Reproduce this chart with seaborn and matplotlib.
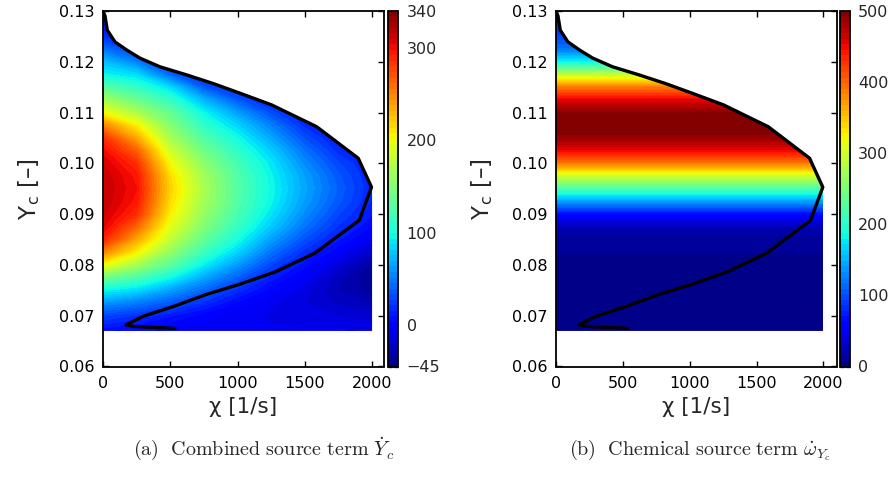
import numpy as np
import pandas as pd
import matplotlib
matplotlib.use("Agg")
import matplotlib.pyplot as plt
from matplotlib.patches import Polygon
import seaborn as sns

# ---------------- data ----------------
chi_grid = [0, 250, 500, 750, 1000, 1250, 1500, 1750, 2000]          # [1/s]
yc_grid = [0.067, 0.070, 0.0725, 0.075, 0.0775, 0.080, 0.0825, 0.085, 0.0875,
           0.090, 0.0925, 0.095, 0.0975, 0.100, 0.1025, 0.105, 0.1075, 0.110,
           0.1125, 0.115, 0.1175, 0.120, 0.1225, 0.125, 0.1275, 0.130]

# combined source term (one column per chi value, rows follow yc_grid)
ydot_chi0    = [5, 28, 58, 95, 140, 200, 250, 290, 305, 312, 315, 316, 315, 310, 300, 285, 250, 200, 165, 130, 95, 75, 45, 18, 8, 3]
ydot_chi250  = [0, 20, 48, 84, 122, 165, 205, 235, 262, 285, 295, 298, 295, 285, 265, 235, 205, 168, 138, 112, 85, 50, 25, 12, 8, 5]
ydot_chi500  = [-5, 10, 35, 62, 97, 130, 156, 178, 194, 206, 214, 218, 214, 201, 184, 166, 150, 135, 112, 85, 40, 15, 10, 8, 5, 5]
ydot_chi750  = [-8, 0, 18, 40, 65, 92, 115, 134, 148, 158, 165, 167, 164, 154, 141, 126, 110, 95, 70, 35, 12, 8, 6, 5, 5, 5]
ydot_chi1000 = [-8, -6, 2, 18, 38, 60, 82, 100, 113, 122, 127, 128, 126, 120, 110, 98, 82, 62, 35, 12, 8, 6, 5, 5, 5, 5]
ydot_chi1250 = [-8, -10, -8, 0, 12, 28, 45, 62, 78, 88, 95, 97, 95, 90, 80, 65, 50, 30, 12, 8, 6, 5, 5, 5, 5, 5]
ydot_chi1500 = [-8, -12, -15, -12, -5, 5, 18, 32, 45, 55, 62, 65, 63, 55, 45, 32, 18, 10, 8, 6, 5, 5, 5, 5, 5, 5]
ydot_chi1750 = [-8, -15, -22, -27, -25, -15, -3, 10, 20, 28, 35, 38, 35, 28, 18, 10, 8, 6, 5, 5, 5, 5, 5, 5, 5, 5]
ydot_chi2000 = [-10, -18, -28, -36, -40, -35, -22, -8, 3, 10, 14, 15, 14, 12, 10, 8, 6, 5, 5, 5, 5, 5, 5, 5, 5, 5]

# chemical source term profile versus Yc (nearly independent of chi)
omega_profile = [5, 5, 5, 5, 5, 6, 8, 12, 25, 65, 140, 220, 300, 390, 450, 490,
                 500, 495, 455, 390, 290, 185, 120, 95, 85, 75]

# S-curve (black line)
curve_chi = [0, 15, 32, 89, 176, 275, 423, 622, 819, 1018, 1253, 1588, 1897, 1996,
             1905, 1575, 1278, 1018, 770, 522, 300, 171, 225, 535]
curve_yc = [0.1300, 0.1290, 0.1262, 0.1239, 0.1223, 0.1207, 0.1190, 0.1174, 0.1157,
            0.1138, 0.1115, 0.1072, 0.1010, 0.0953, 0.0888, 0.0823, 0.0786, 0.0762,
            0.0742, 0.0718, 0.0699, 0.0682, 0.0679, 0.0675]

ydot_ticks = [-45, 0, 100, 200, 300, 340]
omega_ticks = [0, 100, 200, 300, 400, 500]
x_ticks = [0, 500, 1000, 1500, 2000]
y_ticks = [0.06, 0.07, 0.08, 0.09, 0.10, 0.11, 0.12, 0.13]

# ---------------- style ----------------
sns.set_style("ticks")
plt.rcParams["font.family"] = ["DejaVu Sans"]
plt.rcParams["mathtext.fontset"] = "cm"
plt.rcParams["axes.linewidth"] = 1.3

W, H = 893, 480
fig = plt.figure(figsize=(W / 100, H / 100), dpi=100)

def fx(px):
    return px / W

def fy(py):
    return 1 - py / H

top_px, bot_px = 10.9, 366.5
ax_h = (bot_px - top_px) / H
ax_b = fy(bot_px)

ax1 = fig.add_axes([fx(103), ax_b, fx(383.5 - 103), ax_h])
cax1 = fig.add_axes([fx(388.3), ax_b, fx(10), ax_h])
ax2 = fig.add_axes([fx(556), ax_b, fx(836.7 - 556), ax_h])
cax2 = fig.add_axes([fx(840), ax_b, fx(9.5), ax_h])

CHI, YC = np.meshgrid(chi_grid, yc_grid)
ydot = np.column_stack([ydot_chi0, ydot_chi250, ydot_chi500, ydot_chi750, ydot_chi1000,
                        ydot_chi1250, ydot_chi1500, ydot_chi1750, ydot_chi2000])
omega = np.tile(np.array(omega_profile)[:, None], (1, len(chi_grid)))

cmap = plt.get_cmap("jet")
curve_df = pd.DataFrame({"chi": curve_chi, "yc": curve_yc})
tip = int(np.argmax(curve_chi))

def region_patch(ax):
    verts = [(chi_grid[0], yc_grid[0]), (chi_grid[-1], yc_grid[0]), (chi_grid[-1], curve_yc[tip])]
    verts += [(c, y) for c, y in zip(curve_chi[:tip + 1][::-1], curve_yc[:tip + 1][::-1])]
    return Polygon(verts, closed=True, transform=ax.transData, facecolor="none", edgecolor="none")

def panel(ax, cax, Z, vmin, vmax, cticks, xmax):
    levels = np.linspace(vmin, vmax, 65)
    cs = ax.contourf(CHI, YC, np.clip(Z, vmin, vmax), levels=levels, cmap=cmap)
    cs.set_clip_path(region_patch(ax))
    sns.lineplot(data=curve_df, x="chi", y="yc", sort=False, estimator=None,
                 color="black", lw=2.4, ax=ax)
    ax.set_xlim(0, xmax)
    ax.set_ylim(0.06, 0.13)
    ax.set_xticks(x_ticks)
    ax.set_yticks(y_ticks)
    ax.set_yticklabels([f"{v:.2f}" for v in y_ticks])
    ax.tick_params(axis="both", direction="in", top=True, right=True, length=4,
                   width=1.0, labelsize=11.5, colors="black")
    ax.tick_params(axis="x", pad=7)
    ax.tick_params(axis="y", pad=6)
    ax.set_xlabel("χ [1/s]", fontsize=15.5, labelpad=4)
    ax.set_ylabel(r"Y$_{\mathregular{c}}$ [–]", fontsize=16.5, labelpad=12)
    for s in ax.spines.values():
        s.set_color("black")
        s.set_linewidth(1.3)
    cb = fig.colorbar(cs, cax=cax, ticks=cticks)
    cb.ax.set_ylim(vmin, vmax)
    cb.ax.tick_params(direction="in", left=True, right=True, length=3, width=1.0,
                      labelsize=11.5, pad=6)
    cb.ax.set_yticklabels([f"{t}".replace("-", "\u2212") for t in cticks])
    cb.outline.set_linewidth(1.3)
    cb.outline.set_edgecolor("black")

panel(ax1, cax1, ydot, -45, 340, ydot_ticks, 2085)
panel(ax2, cax2, omega, 0, 500, omega_ticks, 2100)

fig.text(fx(264), fy(455), r"$\mathrm{(a)\ \ Combined\ source\ term\ }\dot{Y}_c$",
         ha="center", va="baseline", fontsize=14.5)
fig.text(fx(700), fy(455), r"$\mathrm{(b)\ \ Chemical\ source\ term\ }\dot{\omega}_{Y_c}$",
         ha="center", va="baseline", fontsize=14.5)

fig.savefig("out.png", dpi=100)
